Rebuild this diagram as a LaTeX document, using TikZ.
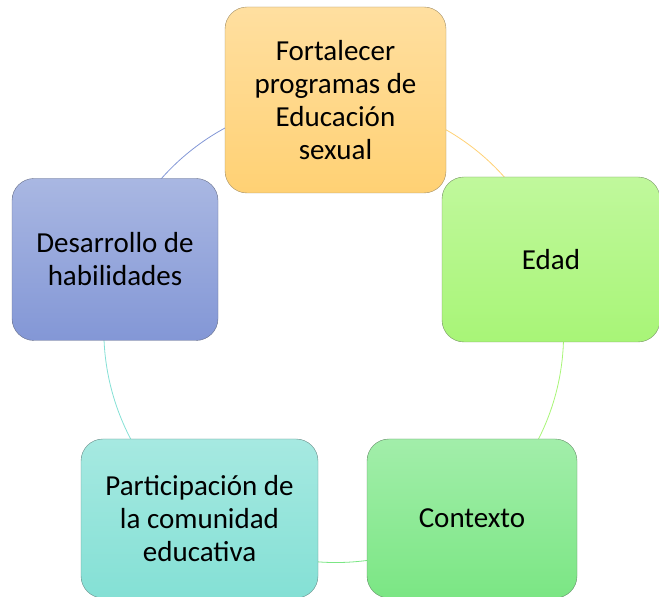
\documentclass[tikz,border=0pt]{standalone}
\usepackage{fontspec}
\setmainfont{Carlito}
\usepackage{tikz}
\usetikzlibrary{backgrounds}
\usepackage{xcolor}
\definecolor{fortTop}{HTML}{FFDFA0}
\definecolor{fortBot}{HTML}{FFD174}
\definecolor{edadTop}{HTML}{C0F89C}
\definecolor{edadBot}{HTML}{A8F577}
\definecolor{contTop}{HTML}{A2EEAA}
\definecolor{contBot}{HTML}{7BE684}
\definecolor{partTop}{HTML}{A6E9E1}
\definecolor{partBot}{HTML}{84E0D5}
\definecolor{desaTop}{HTML}{A9B7E2}
\definecolor{desaBot}{HTML}{8397D6}
\tikzstyle{cyclebox} = [rectangle, rounded corners=22pt, thin, align=center, inner sep=0pt, font=\fontsize{29}{33}\selectfont]
\tikzstyle{ring} = [line width=0.8pt, bend left=36, looseness=0.94]

\begin{document}
\begin{tikzpicture}[x=1pt, y=1pt]
\useasboundingbox (0,0) rectangle (659,597);
\node [cyclebox, top color=fortTop, bottom color=fortBot, draw=fortBot!55!black!80, minimum width=221pt, minimum height=186pt] (fort) at (335.5,497) {Fortalecer\\programas de\\Educación\\sexual};
\node [cyclebox, top color=edadTop, bottom color=edadBot, draw=edadBot!50!black!80, minimum width=218pt, minimum height=165pt] (edad) at (551,337.5) {Edad};
\node [cyclebox, top color=contTop, bottom color=contBot, draw=contBot!50!black!80, minimum width=210pt, minimum height=159pt] (cont) at (472,78.5) {Contexto};
\node [cyclebox, top color=partTop, bottom color=partBot, draw=partBot!50!black!80, minimum width=237pt, minimum height=159pt] (part) at (199.5,78.5) {Participación de\\la comunidad\\educativa};
\node [cyclebox, top color=desaTop, bottom color=desaBot, draw=desaBot!50!black!80, minimum width=206pt, minimum height=162pt] (desa) at (115,337.5) {Desarrollo de\\habilidades};
\begin{pgfonlayer}{background}
\draw [ring, fortBot] (fort.center) to (edad.center);
\draw [ring, edadBot] (edad.center) to (cont.center);
\draw [ring, contBot] (cont.center) to (part.center);
\draw [ring, partBot] (part.center) to (desa.center);
\draw [ring, desaBot] (desa.center) to (fort.center);
\end{pgfonlayer}
\end{tikzpicture}
\end{document}
